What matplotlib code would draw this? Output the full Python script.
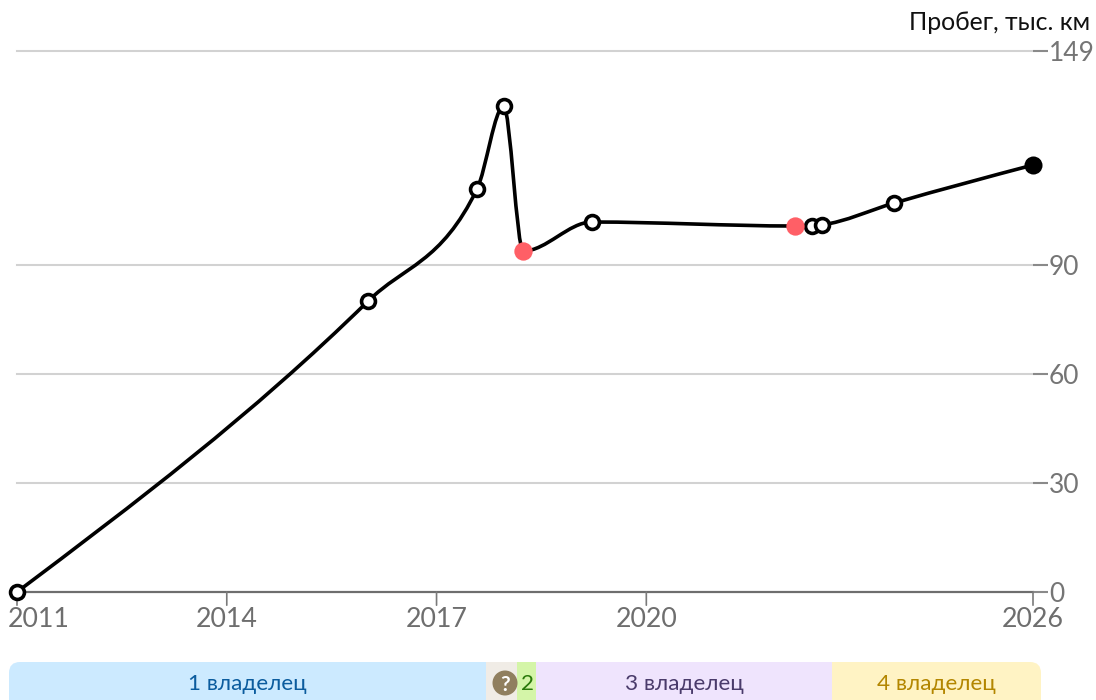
import numpy as np
import matplotlib
matplotlib.use("Agg")
import matplotlib.pyplot as plt
from matplotlib.path import Path
from matplotlib.patches import PathPatch, FancyBboxPatch, Circle

plt.rcParams['font.family'] = ['Lato', 'Open Sans', 'DejaVu Sans']

years = [2011.0, 2016.02, 2017.58, 2017.96, 2018.24, 2019.22, 2022.13, 2022.37, 2022.51, 2023.54, 2025.53]
mileage = [0, 80.1, 111.0, 133.8, 93.9, 101.9, 100.8, 100.8, 101.1, 107.1, 117.6]
kinds = ['o', 'o', 'o', 'o', 'r', 'o', 'r', 'o', 'o', 'o', 'e']
y_ticks = [0, 30, 60, 90, 149]
x_ticks = [2011, 2014, 2017, 2020, 2025.53]
x_labels = ['2011', '2014', '2017', '2020', '2026']
owners = ['1 владелец', '', '2', '3 владелец', '4 владелец']
owner_edges = [9, 486, 517, 536, 832, 1041]
owner_fill = ['#cceaff', '#f0ece6', '#d4f5a8', '#efe4fd', '#fff3c4']
owner_text = ['#0b5c9e', '#000000', '#2b7a0b', '#4a3b6b', '#b38600']

W, H = 1096, 700
fig = plt.figure(figsize=(W / 100, H / 100), dpi=100)
fig.patch.set_facecolor('white')
ax = fig.add_axes([17 / W, 1 - 592 / H, (1033 - 17) / W, (592 - 51) / H])
ax.set_xlim(min(years), max(years))
ax.set_ylim(0, 149)
for s in ax.spines.values():
    s.set_visible(False)
ax.set_xticks([])
ax.set_yticks([])


def monotone_path(x, y):
    """Smooth monotone-x curve through the data points."""
    x, y = np.asarray(x, float), np.asarray(y, float)
    h = np.diff(x)
    s = np.diff(y) / h
    t = np.zeros(len(x))
    for i in range(1, len(x) - 1):
        p = (s[i - 1] * h[i] + s[i] * h[i - 1]) / (h[i - 1] + h[i])
        t[i] = (np.sign(s[i - 1]) + np.sign(s[i])) * min(abs(s[i - 1]), abs(s[i]), 0.5 * abs(p))
    t[0] = (3 * s[0] - t[1]) / 2
    t[-1] = (3 * s[-1] - t[-2]) / 2
    verts = [(x[0], y[0])]
    codes = [Path.MOVETO]
    for i in range(len(h)):
        d = h[i] / 3
        verts += [(x[i] + d, y[i] + d * t[i]), (x[i + 1] - d, y[i + 1] - d * t[i + 1]), (x[i + 1], y[i + 1])]
        codes += [Path.CURVE4] * 3
    return Path(verts, codes)


# grid and axis
for v in y_ticks[1:]:
    ax.axhline(v, color='#d2d2d2', lw=1.5, zorder=1, clip_on=False)
ax.axhline(0, color='#6e6e6e', lw=1.6, zorder=2, clip_on=False)

trans_y = ax.get_yaxis_transform()
trans_x = ax.get_xaxis_transform()
for v in y_ticks:
    ax.plot([1, 1 + 15 / (1033 - 17)], [v, v], transform=trans_y, color='#8a8a8a', lw=1.5,
            clip_on=False, solid_capstyle='butt', zorder=2)
    ax.annotate(str(v), (1, v), xycoords=trans_y, xytext=(16 * 0.72, 0), textcoords='offset points',
                ha='left', va='center_baseline', fontsize=19, color='#757575', annotation_clip=False)
for v, lab in zip(x_ticks, x_labels):
    ax.annotate('', (v, 0), xycoords=trans_x, xytext=(0, -9.5), textcoords='offset points',
                arrowprops=dict(arrowstyle='-', color='#7a7a7a', lw=1.2, shrinkA=0, shrinkB=0),
                annotation_clip=False, zorder=2)
    is_first = lab == x_labels[0]
    ax.annotate(lab, (v, 0), xycoords=trans_x,
                xytext=(-6.8 if is_first else 0, -10.5), textcoords='offset points',
                ha='left' if is_first else 'center', va='top', fontsize=19.3, color='#6e6e6e',
                annotation_clip=False)

fig.text(1090 / W, 1 - 30 / H, 'Пробег, тыс. км', ha='right', va='baseline', fontsize=17.9, color='#111111')

ax.add_patch(PathPatch(monotone_path(years, mileage), fill=False, ec='black', lw=2.6,
                       zorder=3, clip_on=False, capstyle='round', joinstyle='round'))
for xv, yv, k in zip(years, mileage, kinds):
    if k == 'o':
        ax.plot(xv, yv, 'o', ms=10, mfc='white', mec='black', mew=2.6, zorder=4, clip_on=False)
    elif k == 'r':
        ax.plot(xv, yv, 'o', ms=13.2, mfc='#ff5f66', mec='none', zorder=5, clip_on=False)
    else:
        ax.plot(xv, yv, 'o', ms=13, mfc='black', mec='none', zorder=5, clip_on=False)

# owners strip
bar = fig.add_axes([0, 0, 1, 1], facecolor='none')
bar.set_xlim(0, W)
bar.set_ylim(H, 0)
bar.axis('off')
clip = FancyBboxPatch((9, 662), 1032, 60, boxstyle='round,pad=0,rounding_size=11', fc='none', ec='none',
                      transform=bar.transData)
bar.add_patch(clip)
for i, name in enumerate(owners):
    r = bar.barh(681, owner_edges[i + 1] - owner_edges[i], left=owner_edges[i], height=38,
                 color=owner_fill[i], lw=0)[0]
    r.set_clip_path(clip)
    if name:
        bar.text((owner_edges[i] + owner_edges[i + 1]) / 2 + (1 if name == '2' else 0), 684.5, name,
                 ha='center', va='center', fontsize=16.2, color=owner_text[i])
bar.add_patch(Circle(((owner_edges[1] + owner_edges[2]) / 2 + 3.5, 683), 12.5, fc='#907f5f', ec='none'))
bar.text((owner_edges[1] + owner_edges[2]) / 2 + 3.5, 683, '?', ha='center', va='center_baseline', fontsize=15,
         fontweight='bold', color='white')

fig.savefig('out.png', dpi=100)
